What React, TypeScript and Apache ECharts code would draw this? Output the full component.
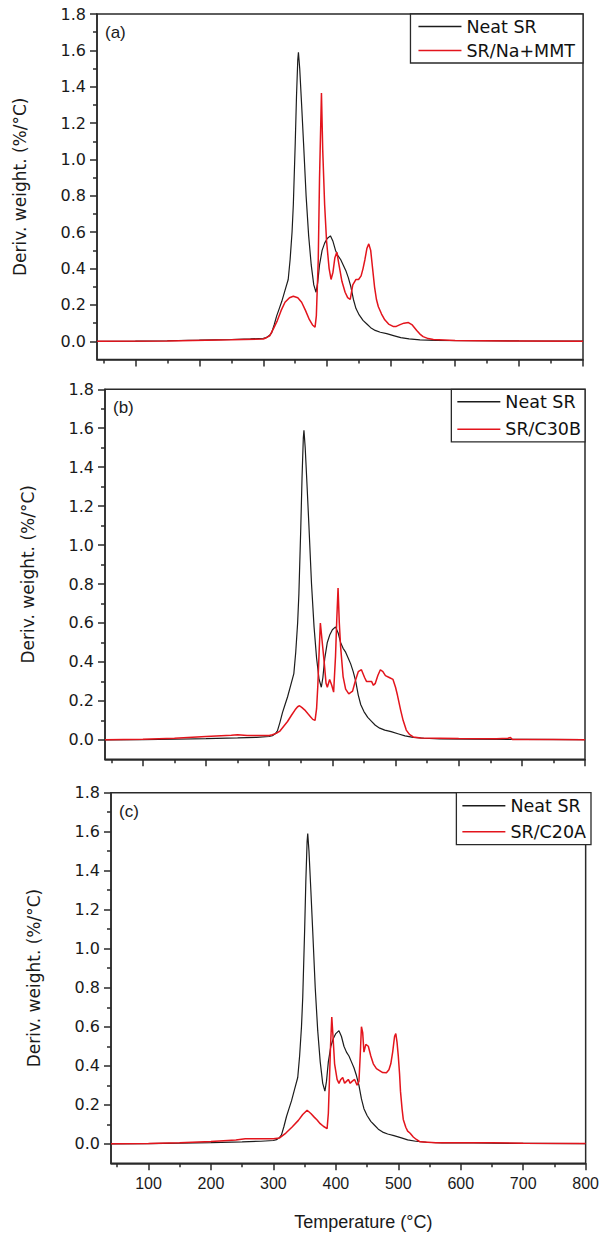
import React, { useEffect, useRef } from "react";
import * as echarts from "echarts";

// ---- data (temperature °C, derivative weight %/°C) ----
const neatSR: number[][] = [
  [40, 0], [100, 0.001], [150, 0.003], [200, 0.006], [250, 0.01], [280, 0.013], [300, 0.017],
  [305, 0.021], [310, 0.033], [313, 0.046], [317, 0.09], [321, 0.14], [325, 0.18], [329, 0.22],
  [334, 0.28], [339, 0.34], [342, 0.45], [345, 0.6], [347, 0.75], [350, 1.09], [352, 1.35],
  [354, 1.55], [355, 1.59], [357, 1.5], [360, 1.3], [363, 1.09], [367, 0.8], [371, 0.58],
  [375, 0.42], [379, 0.31], [382.5, 0.27], [385, 0.32], [388, 0.42], [392, 0.5], [396, 0.54],
  [400, 0.565], [405, 0.58], [409, 0.55], [413, 0.5], [417, 0.47], [421, 0.45], [425, 0.42],
  [429, 0.39], [433, 0.35], [437, 0.3], [441, 0.23], [445, 0.18], [450, 0.145], [456, 0.115],
  [462, 0.095], [468, 0.075], [475, 0.06], [483, 0.05], [493, 0.042], [505, 0.03], [515, 0.02],
  [528, 0.013], [545, 0.008], [570, 0.005], [620, 0.004], [700, 0.002], [800, 0.001],
];

const srNaMMT: number[][] = [
  [40, 0], [150, 0.002], [250, 0.008], [300, 0.013], [305, 0.02], [310, 0.03], [316, 0.07],
  [322, 0.114], [328, 0.17], [334, 0.215], [341, 0.24], [347, 0.248], [354, 0.24], [360, 0.215],
  [366, 0.17], [372, 0.12], [377, 0.09], [381, 0.078], [383, 0.14], [386, 0.45], [388, 0.9],
  [391, 1.365], [393, 1.05], [396, 0.75], [399, 0.55], [403, 0.4], [406, 0.34], [409, 0.38],
  [412, 0.46], [415, 0.49], [419, 0.41], [423, 0.33], [428, 0.27], [432, 0.24], [436, 0.23],
  [440, 0.31], [445, 0.34], [449, 0.34], [453, 0.36], [456, 0.4], [459, 0.45], [462, 0.51],
  [465, 0.536], [468, 0.5], [471, 0.4], [474, 0.3], [477, 0.23], [480, 0.19], [485, 0.15],
  [490, 0.118], [496, 0.095], [503, 0.082], [508, 0.082], [514, 0.092], [520, 0.1], [527, 0.103],
  [533, 0.09], [540, 0.06], [545, 0.04], [550, 0.026], [558, 0.015], [566, 0.01], [600, 0.004],
  [700, 0.002], [800, 0.001],
];

const srC30B: number[][] = [
  [40, 0], [100, 0.003], [150, 0.008], [200, 0.017], [240, 0.024], [250, 0.026], [265, 0.022],
  [300, 0.022], [305, 0.026], [311, 0.033], [317, 0.045], [323, 0.07], [329, 0.094], [335, 0.125],
  [341, 0.154], [345, 0.17], [348, 0.175], [352, 0.165], [356, 0.154], [361, 0.135], [365, 0.12],
  [369, 0.105], [372.6, 0.1], [375, 0.16], [377, 0.28], [379, 0.45], [381, 0.6], [384, 0.5],
  [387, 0.4], [390, 0.29], [392, 0.27], [395.7, 0.31], [399, 0.28], [402, 0.245], [405, 0.43],
  [407, 0.62], [409, 0.78], [411, 0.6], [413, 0.48], [417, 0.325], [421, 0.26], [426, 0.236],
  [432, 0.25], [437, 0.31], [441, 0.35], [446, 0.36], [451, 0.32], [454, 0.3], [458, 0.3],
  [462, 0.3], [465, 0.28], [468, 0.29], [472, 0.33], [476, 0.36], [480, 0.35], [484, 0.33],
  [490, 0.32], [496, 0.31], [500, 0.27], [503, 0.23], [508, 0.154], [512, 0.1], [517, 0.05],
  [522, 0.028], [528, 0.015], [540, 0.009], [600, 0.007], [660, 0.006], [678, 0.008], [682, 0.012],
  [685, 0.002], [690, 0.002], [750, 0.002], [800, 0.001],
];

const srC20A: number[][] = [
  [40, 0], [100, 0.002], [150, 0.005], [200, 0.012], [240, 0.02], [255, 0.026], [280, 0.026],
  [300, 0.026], [310, 0.03], [320, 0.055], [330, 0.086], [340, 0.12], [347, 0.15], [354, 0.172],
  [360, 0.155], [365, 0.138], [370, 0.122], [375, 0.103], [380, 0.09], [386, 0.078], [388, 0.155],
  [390, 0.35], [391.5, 0.5], [393.5, 0.65], [395.5, 0.55], [398, 0.41], [402, 0.33], [405, 0.31],
  [408, 0.33], [411, 0.34], [414, 0.31], [417, 0.32], [420, 0.33], [423, 0.31], [426, 0.32],
  [430, 0.33], [434, 0.3], [437, 0.32], [439, 0.45], [441, 0.6], [443, 0.57], [445, 0.47],
  [448, 0.51], [452, 0.5], [456, 0.45], [460, 0.41], [465, 0.385], [470, 0.375], [475, 0.365],
  [481, 0.364], [485, 0.38], [488, 0.41], [491, 0.47], [494, 0.55], [496, 0.565], [498, 0.52],
  [500, 0.45], [502, 0.36], [503.5, 0.27], [506, 0.18], [508, 0.125], [512, 0.085], [515, 0.065],
  [519, 0.054], [524, 0.035], [529, 0.022], [535, 0.01], [560, 0.005], [650, 0.005], [700, 0.003],
  [800, 0.002],
];

const neatName = "Neat SR";
const compositeNames = ["SR/Na+MMT", "SR/C30B", "SR/C20A"];
const compositeData = [srNaMMT, srC30B, srC20A];
const panelLabels = ["(a)", "(b)", "(c)"];

const xMajorTicks = [100, 200, 300, 400, 500, 600, 700, 800];
const xMinorTicks = [50, 150, 250, 350, 450, 550, 650, 750];
const yMajorTicks = [0, 0.2, 0.4, 0.6, 0.8, 1.0, 1.2, 1.4, 1.6, 1.8];
const yMinorTicks = [0.1, 0.3, 0.5, 0.7, 0.9, 1.1, 1.3, 1.5, 1.7];

const xTitle = "Temperature (°C)";
const yTitle = "Deriv. weight. (%/°C)";

// ---- layout ----
const W = 602;
const H = 1239;
const grids = [
  { left: 97, top: 14, width: 486, height: 345.5 },
  { left: 105, top: 389.3, width: 480, height: 370 },
  { left: 111, top: 792.7, width: 480, height: 370.6 },
];
const legendGaps = [6, 9.5, 8];
const legendPads = [
  [3.5, 8, 3.5, 8],
  [3.5, 4, 3.5, 6],
  [4, 5, 4, 6],
];

const AXIS_COLOR = "#2a2a2a";
const BLACK = "#1c1c1c";
const RED = "#e3141c";

export default function App() {
  const ref = useRef<HTMLDivElement>(null);

  useEffect(() => {
    if (!ref.current) return;
    const chart = echarts.init(ref.current, undefined, { renderer: "svg" });

    const xAxis: any[] = [];
    const yAxis: any[] = [];
    const series: any[] = [];
    const legend: any[] = [];
    const graphic: any[] = [];

    grids.forEach((g, i) => {
      const isLast = i === grids.length - 1;
      xAxis.push({
        type: "value",
        gridIndex: i,
        min: 40,
        max: 800,
        axisLine: { show: true, onZero: false, lineStyle: { color: AXIS_COLOR, width: 1.5 } },
        axisTick: { show: true, length: 7, customValues: xMajorTicks, lineStyle: { color: AXIS_COLOR, width: 1.5 } },
        axisLabel: {
          show: isLast,
          customValues: xMajorTicks,
          margin: 12,
          fontFamily: "Liberation Sans",
          fontSize: 16,
          color: "#1a1a1a",
        },
        splitLine: { show: false },
        name: isLast ? xTitle : "",
        nameLocation: "middle",
        nameGap: 50,
        nameTextStyle: { fontFamily: "Liberation Sans", fontSize: 18, color: "#1a1a1a", padding: [0, 0, 0, 30] },
      });
      xAxis.push({
        type: "value",
        gridIndex: i,
        min: 40,
        max: 800,
        position: "bottom",
        axisLine: { show: false, onZero: false },
        axisTick: { show: true, length: 4, customValues: xMinorTicks, lineStyle: { color: AXIS_COLOR, width: 1.5 } },
        axisLabel: { show: false },
        splitLine: { show: false },
      });
      yAxis.push({
        type: "value",
        gridIndex: i,
        min: -0.1,
        max: 1.8,
        axisLine: { show: true, onZero: false, lineStyle: { color: AXIS_COLOR, width: 1.5 } },
        axisTick: { show: true, length: 7, customValues: yMajorTicks, lineStyle: { color: AXIS_COLOR, width: 1.5 } },
        axisLabel: {
          show: true,
          customValues: yMajorTicks,
          margin: 11,
          fontFamily: "DejaVu Sans",
          fontSize: 16,
          color: "#1a1a1a",
          formatter: (v: number) => v.toFixed(1),
        },
        splitLine: { show: false },
        name: yTitle,
        nameLocation: "middle",
        nameGap: 69,
        nameTextStyle: { fontFamily: "DejaVu Sans", fontSize: 17, color: "#1a1a1a" },
      });
      yAxis.push({
        type: "value",
        gridIndex: i,
        min: -0.1,
        max: 1.8,
        position: "left",
        axisLine: { show: false, onZero: false },
        axisTick: { show: true, length: 4, customValues: yMinorTicks, lineStyle: { color: AXIS_COLOR, width: 1.5 } },
        axisLabel: { show: false },
        splitLine: { show: false },
      });

      series.push({
        type: "line",
        name: neatName,
        xAxisIndex: i * 2,
        yAxisIndex: i * 2,
        data: neatSR,
        symbol: "none",
        lineStyle: { color: BLACK, width: 1.2 },
        itemStyle: { color: BLACK },
        z: 2,
      });
      series.push({
        type: "line",
        name: compositeNames[i],
        xAxisIndex: i * 2,
        yAxisIndex: i * 2,
        data: compositeData[i],
        symbol: "none",
        lineStyle: { color: RED, width: 1.5 },
        itemStyle: { color: RED },
        z: 3,
      });

      legend.push({
        data: [neatName, compositeNames[i]],
        orient: "vertical",
        right: W - (g.left + g.width),
        top: g.top,
        align: "left",
        icon: "rect",
        itemWidth: 43,
        itemHeight: 1.6,
        itemGap: legendGaps[i],
        padding: legendPads[i],
        borderColor: AXIS_COLOR,
        borderWidth: 1.3,
        backgroundColor: "#ffffff",
        textStyle: { fontFamily: "DejaVu Sans", fontSize: 17.5, lineHeight: 16, color: "#111" },
        selectedMode: false,
      });

      graphic.push({
        type: "text",
        left: g.left + 8,
        top: g.top + 10,
        style: { text: panelLabels[i], font: "17px 'Liberation Sans'", fill: "#1a1a1a" },
      });
    });

    chart.setOption({
      animation: false,
      backgroundColor: "#ffffff",
      grid: grids.map((g) => ({
        left: g.left,
        top: g.top,
        width: g.width,
        height: g.height,
        show: true,
        borderColor: AXIS_COLOR,
        borderWidth: 1.5,
        backgroundColor: "transparent",
      })),
      xAxis,
      yAxis,
      series,
      legend,
      graphic,
    });

    return () => chart.dispose();
  }, []);

  return (
    <div
      ref={ref}
      style={{ position: "fixed", left: 0, top: 0, width: W, height: H, background: "#fff" }}
    />
  );
}
